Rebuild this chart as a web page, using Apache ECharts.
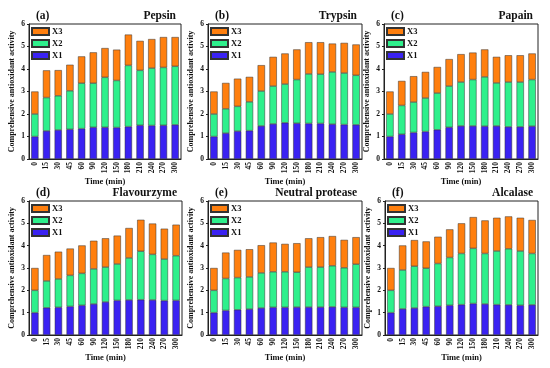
<!DOCTYPE html>
<html><head><meta charset="utf-8">
<script src="https://cdn.jsdelivr.net/npm/echarts@6/dist/echarts.min.js"></script>
<style>html,body{margin:0;padding:0;background:#fff}#c{width:550px;height:368px}</style>
</head><body><div id="c"></div>
<script>
const categories = ['0','15','30','45','60','90','120','150','180','210','240','270','300'];
const yTicks = [0,1,2,3,4,5,6];
const panelLabels = ['(a)','(b)','(c)','(d)','(e)','(f)'];
const enzymes = ['Pepsin','Trypsin','Papain','Flavourzyme','Neutral protease','Alcalase'];

const pepsinX1 = [1.0,1.25,1.29,1.32,1.35,1.41,1.41,1.40,1.44,1.50,1.49,1.50,1.52];
const pepsinX2 = [1.0,1.48,1.52,1.71,2.02,1.96,2.22,2.09,2.72,2.44,2.55,2.57,2.60];
const pepsinX3 = [1.0,1.21,1.14,1.16,1.19,1.37,1.30,1.37,1.37,1.31,1.29,1.35,1.30];

const trypsinX1 = [1.0,1.15,1.24,1.26,1.47,1.56,1.61,1.59,1.58,1.58,1.55,1.53,1.52];
const trypsinX2 = [1.0,1.08,1.10,1.28,1.55,1.68,1.72,1.94,2.20,2.19,2.32,2.29,2.20];
const trypsinX3 = [1.0,1.15,1.23,1.11,1.15,1.30,1.36,1.34,1.41,1.42,1.26,1.34,1.37];

const papainX1 = [1.0,1.10,1.18,1.22,1.30,1.41,1.47,1.47,1.46,1.47,1.43,1.43,1.46];
const papainX2 = [1.0,1.28,1.35,1.49,1.63,1.83,1.95,2.06,2.19,1.91,1.99,1.99,2.07];
const papainX3 = [1.0,1.09,1.15,1.16,1.16,1.20,1.24,1.20,1.22,1.16,1.19,1.19,1.16];

const flavourzymeX1 = [1.0,1.22,1.24,1.28,1.33,1.39,1.48,1.55,1.57,1.58,1.57,1.54,1.55];
const flavourzymeX2 = [1.0,1.20,1.27,1.39,1.43,1.57,1.56,1.63,1.88,2.17,2.04,1.86,2.00];
const flavourzymeX3 = [1.0,1.16,1.22,1.20,1.25,1.26,1.29,1.27,1.34,1.41,1.38,1.36,1.39];

const neutralX1 = [1.0,1.10,1.13,1.16,1.21,1.24,1.24,1.25,1.25,1.25,1.26,1.24,1.24];
const neutralX2 = [1.0,1.43,1.44,1.44,1.57,1.59,1.59,1.56,1.79,1.79,1.84,1.77,1.93];
const neutralX3 = [1.0,1.16,1.24,1.24,1.24,1.31,1.25,1.30,1.29,1.34,1.33,1.25,1.21];

const alcalaseX1 = [1.0,1.17,1.21,1.27,1.29,1.33,1.36,1.41,1.39,1.36,1.35,1.33,1.35];
const alcalaseX2 = [1.0,1.74,1.87,1.72,1.91,2.14,2.29,2.47,2.26,2.40,2.51,2.43,2.30];
const alcalaseX3 = [1.0,1.10,1.17,1.20,1.20,1.26,1.35,1.40,1.48,1.49,1.45,1.49,1.50];

const panelData = [
  [pepsinX1,pepsinX2,pepsinX3],
  [trypsinX1,trypsinX2,trypsinX3],
  [papainX1,papainX2,papainX3],
  [flavourzymeX1,flavourzymeX2,flavourzymeX3],
  [neutralX1,neutralX2,neutralX3],
  [alcalaseX1,alcalaseX2,alcalaseX3]
];

const FONT = '"Liberation Serif","Times New Roman",serif';
const colors = {X1:'#3a22f2', X2:'#2ef08c', X3:'#ff7f0e'};
const boxes = [
  {left:29, top:24, width:152, height:135},
  {left:208, top:24, width:154, height:135},
  {left:384, top:24, width:154, height:135},
  {left:29, top:201, width:153, height:134},
  {left:208, top:201, width:154, height:134},
  {left:385, top:201, width:153, height:134}
];

const grid=[], xAxis=[], yAxis=[], series=[], legend=[], title=[];
boxes.forEach((b,i)=>{
  grid.push({left:b.left, top:b.top, width:b.width, height:b.height, show:true, borderColor:'#222', borderWidth:1, backgroundColor:'transparent'});
  xAxis.push({type:'category', gridIndex:i, data:categories,
    name:'Time (min)', nameLocation:'middle', nameGap:18,
    nameTextStyle:{fontFamily:FONT, fontWeight:'bold', fontSize:8.5, color:'#111'},
    axisLine:{lineStyle:{color:'#222', width:1}},
    axisTick:{alignWithLabel:true, length:2, lineStyle:{color:'#222'}},
    axisLabel:{rotate:90, interval:0, fontFamily:FONT, fontWeight:'bold', fontSize:7.5, color:'#111', margin:3}
  });
  yAxis.push({type:'value', gridIndex:i, min:0, max:6, interval:1,
    name:'Comprehensive antioxidant activity', nameLocation:'middle', nameGap:13,
    nameTextStyle:{fontFamily:FONT, fontWeight:'bold', fontSize:8, color:'#111'},
    axisLine:{show:true, lineStyle:{color:'#222', width:1}},
    axisTick:{show:true, length:2, lineStyle:{color:'#222'}},
    splitLine:{show:false},
    axisLabel:{fontFamily:FONT, fontWeight:'bold', fontSize:7.5, color:'#111', margin:4,
      formatter:(v)=> yTicks.indexOf(v)>=0 ? String(v) : ''}
  });
  const d = panelData[i];
  ['X1','X2','X3'].forEach((nm,k)=>{
    series.push({type:'bar', name:nm, xAxisIndex:i, yAxisIndex:i, stack:'s'+i,
      data:d[k], barWidth:'62%',
      itemStyle:{color:colors[nm], borderColor:'#333', borderWidth:0.5}});
  });
  legend.push({data:['X3','X2','X1'], orient:'vertical', left:b.left+2, top:b.top+3,
    itemWidth:17, itemHeight:7, itemGap:3, padding:0, selectedMode:false,
    icon:'rect',
    textStyle:{fontFamily:FONT, fontWeight:'bold', fontSize:8.5, color:'#111', padding:[0,0,0,-2]}});
  title.push({text:panelLabels[i], left:b.left+7, top:b.top-14, padding:0,
    textStyle:{fontFamily:FONT, fontWeight:'bold', fontSize:11.5, color:'#111'}});
  title.push({text:enzymes[i], right:550-(b.left+b.width)+5, top:b.top-14, padding:0,
    textStyle:{fontFamily:FONT, fontWeight:'bold', fontSize:11.5, color:'#111'}});
});

const chart = echarts.init(document.getElementById('c'), null, {renderer:'canvas'});
chart.setOption({animation:false, backgroundColor:'#fff', title, legend, grid, xAxis, yAxis, series});
</script></body></html>
